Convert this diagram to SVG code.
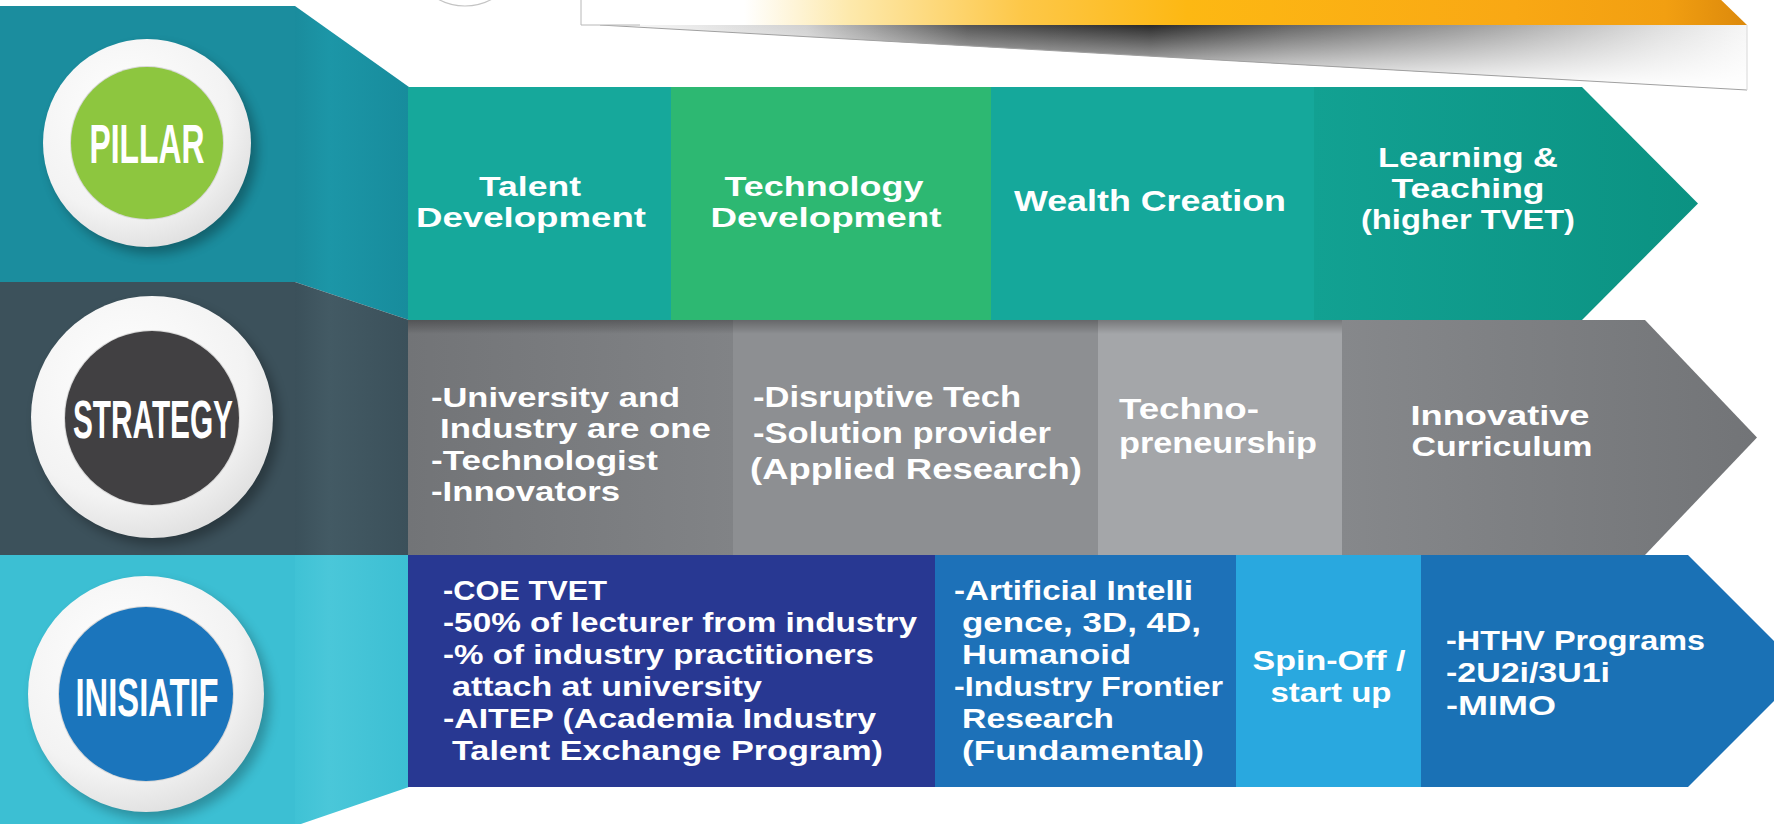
<svg xmlns="http://www.w3.org/2000/svg" width="1774" height="824" viewBox="0 0 1774 824">
<style>
.t{font-family:"Liberation Sans","DejaVu Sans",sans-serif;font-weight:bold;fill:#ffffff;font-size:28.5px;}
.t1{font-size:27.5px;}
.t2{font-size:27.5px;}
.t3{font-size:30px;}
.m{text-anchor:middle;}
.lbl{font-family:"Liberation Sans","DejaVu Sans",sans-serif;font-weight:bold;fill:#ffffff;text-anchor:middle;}
.ring{fill:url(#ringG);}
</style>
<defs>
<radialGradient id="ringG" cx="40%" cy="35%" r="70%">
<stop offset="0" stop-color="#ffffff"/>
<stop offset="0.7" stop-color="#f3f3f3"/>
<stop offset="1" stop-color="#dedede"/>
</radialGradient>
<filter id="blur" x="-30%" y="-30%" width="160%" height="160%"><feGaussianBlur stdDeviation="6"/></filter>
<linearGradient id="bannerG" gradientUnits="userSpaceOnUse" x1="581" y1="0" x2="1747" y2="0">
<stop offset="0" stop-color="#ffffff"/>
<stop offset="0.14" stop-color="#ffffff"/>
<stop offset="0.23" stop-color="#fde9ac"/>
<stop offset="0.38" stop-color="#fdc747"/>
<stop offset="0.52" stop-color="#fdb813"/>
<stop offset="0.8" stop-color="#f9a814"/>
<stop offset="0.93" stop-color="#f29f11"/>
<stop offset="1" stop-color="#dc890c"/>
</linearGradient>
<linearGradient id="shadowG" gradientUnits="userSpaceOnUse" x1="600" y1="0" x2="1747" y2="0">
<stop offset="0" stop-color="#ffffff"/>
<stop offset="0.18" stop-color="#d0d0d0"/>
<stop offset="0.32" stop-color="#555555"/>
<stop offset="0.48" stop-color="#2a2a2a"/>
<stop offset="0.6" stop-color="#666666"/>
<stop offset="0.75" stop-color="#9a9a9a"/>
<stop offset="0.92" stop-color="#dddddd"/>
<stop offset="1" stop-color="#f6f6f6"/>
</linearGradient>
<linearGradient id="fadeG" gradientUnits="userSpaceOnUse" x1="0" y1="25" x2="0" y2="85">
<stop offset="0" stop-color="#ffffff" stop-opacity="0"/>
<stop offset="1" stop-color="#ffffff" stop-opacity="0.95"/>
</linearGradient>
<linearGradient id="topShadeG" x1="0" y1="0" x2="0" y2="1">
<stop offset="0" stop-color="#000000" stop-opacity="0.28"/>
<stop offset="1" stop-color="#000000" stop-opacity="0"/>
</linearGradient>
<linearGradient id="p4G" x1="0" y1="0" x2="1" y2="0">
<stop offset="0" stop-color="#12a192"/>
<stop offset="1" stop-color="#0b9282"/>
</linearGradient>
<linearGradient id="s1G" x1="0" y1="0" x2="1" y2="0">
<stop offset="0" stop-color="#727477"/>
<stop offset="1" stop-color="#818386"/>
</linearGradient>
<linearGradient id="s4G" x1="0" y1="0" x2="1" y2="0">
<stop offset="0" stop-color="#86888b"/>
<stop offset="1" stop-color="#727477"/>
</linearGradient>
<linearGradient id="pfG" x1="0" y1="0" x2="1" y2="0">
<stop offset="0" stop-color="#1a8c9d"/>
<stop offset="0.3" stop-color="#1c96a7"/>
<stop offset="1" stop-color="#178c9c"/>
</linearGradient>
<linearGradient id="sfG" x1="0" y1="0" x2="1" y2="0">
<stop offset="0" stop-color="#3b505a"/>
<stop offset="0.3" stop-color="#435a64"/>
<stop offset="1" stop-color="#3b505a"/>
</linearGradient>
<linearGradient id="ifG" x1="0" y1="0" x2="1" y2="0">
<stop offset="0" stop-color="#3fc2d5"/>
<stop offset="0.3" stop-color="#4ac7d9"/>
<stop offset="1" stop-color="#3cbfd3"/>
</linearGradient>
</defs>

<g id="top-decoration">
<circle cx="465" cy="-49" r="55" fill="#ffffff" stroke="#c4c4c4" stroke-width="1.2"/>
<polygon points="600,25 1747,25 1747,90" fill="url(#shadowG)"/>
<polygon points="600,25 1747,25 1747,90" fill="url(#fadeG)"/>
<line x1="600" y1="25" x2="1747" y2="90" stroke="#a0a0a0" stroke-width="1"/>
<line x1="1747" y1="25" x2="1747" y2="90" stroke="#d8d8d8" stroke-width="1"/>
<polygon points="581,-5 1716,-5 1747,25 581,25" fill="url(#bannerG)"/>
<polyline points="581,-5 581,25 640,25" fill="none" stroke="#b8b8b8" stroke-width="1"/>
</g>

<g id="left-panels">
<rect x="0" y="6" width="295" height="276" fill="#1b8d9e"/>
<polygon points="295,6 409,87 409,320 295,282" fill="url(#pfG)"/>
<rect x="0" y="282" width="295" height="273" fill="#3c515b"/>
<polygon points="295,282 409,320 409,555 295,555" fill="url(#sfG)"/>
<rect x="0" y="555" width="295" height="269" fill="#3cbfd3"/>
<polygon points="295,555 409,555 409,787 295,826" fill="url(#ifG)"/>
</g>

<g id="node-pillar">
<circle cx="153" cy="150" r="104" fill="#000" opacity="0.3" filter="url(#blur)"/>
<circle cx="147" cy="143" r="104" class="ring"/>
<circle cx="147" cy="143" r="77" fill="#d8d8d8"/>
<circle cx="147" cy="143" r="76" fill="#8dc63f"/>
<text class="lbl" x="147" y="163" font-size="56" textLength="115" lengthAdjust="spacingAndGlyphs">PILLAR</text>
</g>

<g id="node-strategy">
<circle cx="158" cy="424" r="121" fill="#000" opacity="0.3" filter="url(#blur)"/>
<circle cx="152" cy="417" r="121" class="ring"/>
<circle cx="152" cy="418" r="88" fill="#d8d8d8"/>
<circle cx="152" cy="418" r="87" fill="#414042"/>
<text class="lbl" x="153" y="438" font-size="53" textLength="160" lengthAdjust="spacingAndGlyphs">STRATEGY</text>
</g>

<g id="node-inisiatif">
<circle cx="152" cy="701" r="118" fill="#000" opacity="0.25" filter="url(#blur)"/>
<circle cx="146" cy="694" r="118" class="ring"/>
<circle cx="146" cy="694" r="88" fill="#d8d8d8"/>
<circle cx="146" cy="694" r="87" fill="#1b75bc"/>
<text class="lbl" x="147" y="716" font-size="53" textLength="143" lengthAdjust="spacingAndGlyphs">INISIATIF</text>
</g>

<g id="pillar-talent">
<rect x="408" y="87" width="263" height="233" fill="#16a89b"/>
<text class="t t1 m" x="530" y="196" textLength="102" lengthAdjust="spacingAndGlyphs">Talent</text>
<text class="t t1 m" x="531" y="227" textLength="230" lengthAdjust="spacingAndGlyphs">Development</text>
</g>
<g id="pillar-technology">
<rect x="671" y="87" width="320" height="233" fill="#2db872"/>
<text class="t t1 m" x="824" y="196" textLength="199" lengthAdjust="spacingAndGlyphs">Technology</text>
<text class="t t1 m" x="826" y="227" textLength="231" lengthAdjust="spacingAndGlyphs">Development</text>
</g>
<g id="pillar-wealth">
<rect x="991" y="87" width="323" height="233" fill="#15a89b"/>
<text class="t t3 m" x="1150" y="211" textLength="272" lengthAdjust="spacingAndGlyphs">Wealth Creation</text>
</g>
<g id="pillar-learning">
<polygon points="1314,87 1582,87 1698,203.5 1582,320 1314,320" fill="url(#p4G)"/>
<text class="t t1 m" x="1468" y="167" textLength="180" lengthAdjust="spacingAndGlyphs">Learning &amp;</text>
<text class="t t1 m" x="1468" y="198" textLength="153" lengthAdjust="spacingAndGlyphs">Teaching</text>
<text class="t t1 m" x="1468" y="229" textLength="214" lengthAdjust="spacingAndGlyphs">(higher TVET)</text>
</g>

<g id="strategy-university">
<rect x="408" y="320" width="325" height="235" fill="url(#s1G)"/>
<text class="t t2" x="431" y="407" textLength="249" lengthAdjust="spacingAndGlyphs">-University and</text>
<text class="t t2" x="440" y="438" textLength="271" lengthAdjust="spacingAndGlyphs">Industry are one</text>
<text class="t t2" x="431" y="470" textLength="227" lengthAdjust="spacingAndGlyphs">-Technologist</text>
<text class="t t2" x="431" y="501" textLength="189" lengthAdjust="spacingAndGlyphs">-Innovators</text>
</g>
<g id="strategy-disruptive">
<rect x="733" y="320" width="365" height="235" fill="#8d8f92"/>
<text class="t t3" x="753" y="407" textLength="268" lengthAdjust="spacingAndGlyphs">-Disruptive Tech</text>
<text class="t t3" x="753" y="443" textLength="298" lengthAdjust="spacingAndGlyphs">-Solution provider</text>
<text class="t t3" x="750" y="479" textLength="332" lengthAdjust="spacingAndGlyphs">(Applied Research)</text>
</g>
<g id="strategy-techno">
<rect x="1098" y="320" width="244" height="235" fill="#a4a6a9"/>
<text class="t t3" x="1119" y="419" textLength="140" lengthAdjust="spacingAndGlyphs">Techno-</text>
<text class="t t3" x="1119" y="453" textLength="198" lengthAdjust="spacingAndGlyphs">preneurship</text>
</g>
<g id="strategy-curriculum">
<polygon points="1342,320 1645,320 1757,437.5 1645,555 1342,555" fill="url(#s4G)"/>
<text class="t t2" x="1500" y="425" text-anchor="middle" textLength="179" lengthAdjust="spacingAndGlyphs">Innovative</text>
<text class="t t2" x="1502" y="456" text-anchor="middle" textLength="181" lengthAdjust="spacingAndGlyphs">Curriculum</text>
</g>
<rect x="408" y="320" width="934" height="14" fill="url(#topShadeG)"/>

<g id="inisiatif-coe">
<rect x="408" y="555" width="527" height="232" fill="#283892"/>
<text class="t" x="443" y="600" textLength="164" lengthAdjust="spacingAndGlyphs">-COE TVET</text>
<text class="t" x="443" y="632" textLength="474" lengthAdjust="spacingAndGlyphs">-50% of lecturer from industry</text>
<text class="t" x="443" y="664" textLength="431" lengthAdjust="spacingAndGlyphs">-% of industry practitioners</text>
<text class="t" x="452" y="696" textLength="310" lengthAdjust="spacingAndGlyphs">attach at university</text>
<text class="t" x="443" y="728" textLength="433" lengthAdjust="spacingAndGlyphs">-AITEP (Academia Industry</text>
<text class="t" x="452" y="760" textLength="431" lengthAdjust="spacingAndGlyphs">Talent Exchange Program)</text>
</g>
<g id="inisiatif-ai">
<rect x="935" y="555" width="301" height="232" fill="#1d71b8"/>
<text class="t" x="954" y="600" textLength="239" lengthAdjust="spacingAndGlyphs">-Artificial Intelli</text>
<text class="t" x="962" y="632" textLength="239" lengthAdjust="spacingAndGlyphs">gence, 3D, 4D,</text>
<text class="t" x="962" y="664" textLength="169" lengthAdjust="spacingAndGlyphs">Humanoid</text>
<text class="t" x="954" y="696" textLength="269" lengthAdjust="spacingAndGlyphs">-Industry Frontier</text>
<text class="t" x="962" y="728" textLength="152" lengthAdjust="spacingAndGlyphs">Research</text>
<text class="t" x="962" y="760" textLength="242" lengthAdjust="spacingAndGlyphs">(Fundamental)</text>
</g>
<g id="inisiatif-spinoff">
<rect x="1236" y="555" width="185" height="232" fill="#29a8df"/>
<text class="t m" x="1329" y="670" textLength="153" lengthAdjust="spacingAndGlyphs">Spin-Off /</text>
<text class="t m" x="1331" y="702" textLength="121" lengthAdjust="spacingAndGlyphs">start up</text>
</g>
<g id="inisiatif-hthv">
<polygon points="1421,555 1688,555 1804,671 1688,787 1421,787" fill="#1a71b5"/>
<text class="t" x="1446" y="650" textLength="259" lengthAdjust="spacingAndGlyphs">-HTHV Programs</text>
<text class="t" x="1446" y="682" textLength="164" lengthAdjust="spacingAndGlyphs">-2U2i/3U1i</text>
<text class="t" x="1446" y="715" textLength="110" lengthAdjust="spacingAndGlyphs">-MIMO</text>
</g>

<g id="connectors"/>
</svg>
